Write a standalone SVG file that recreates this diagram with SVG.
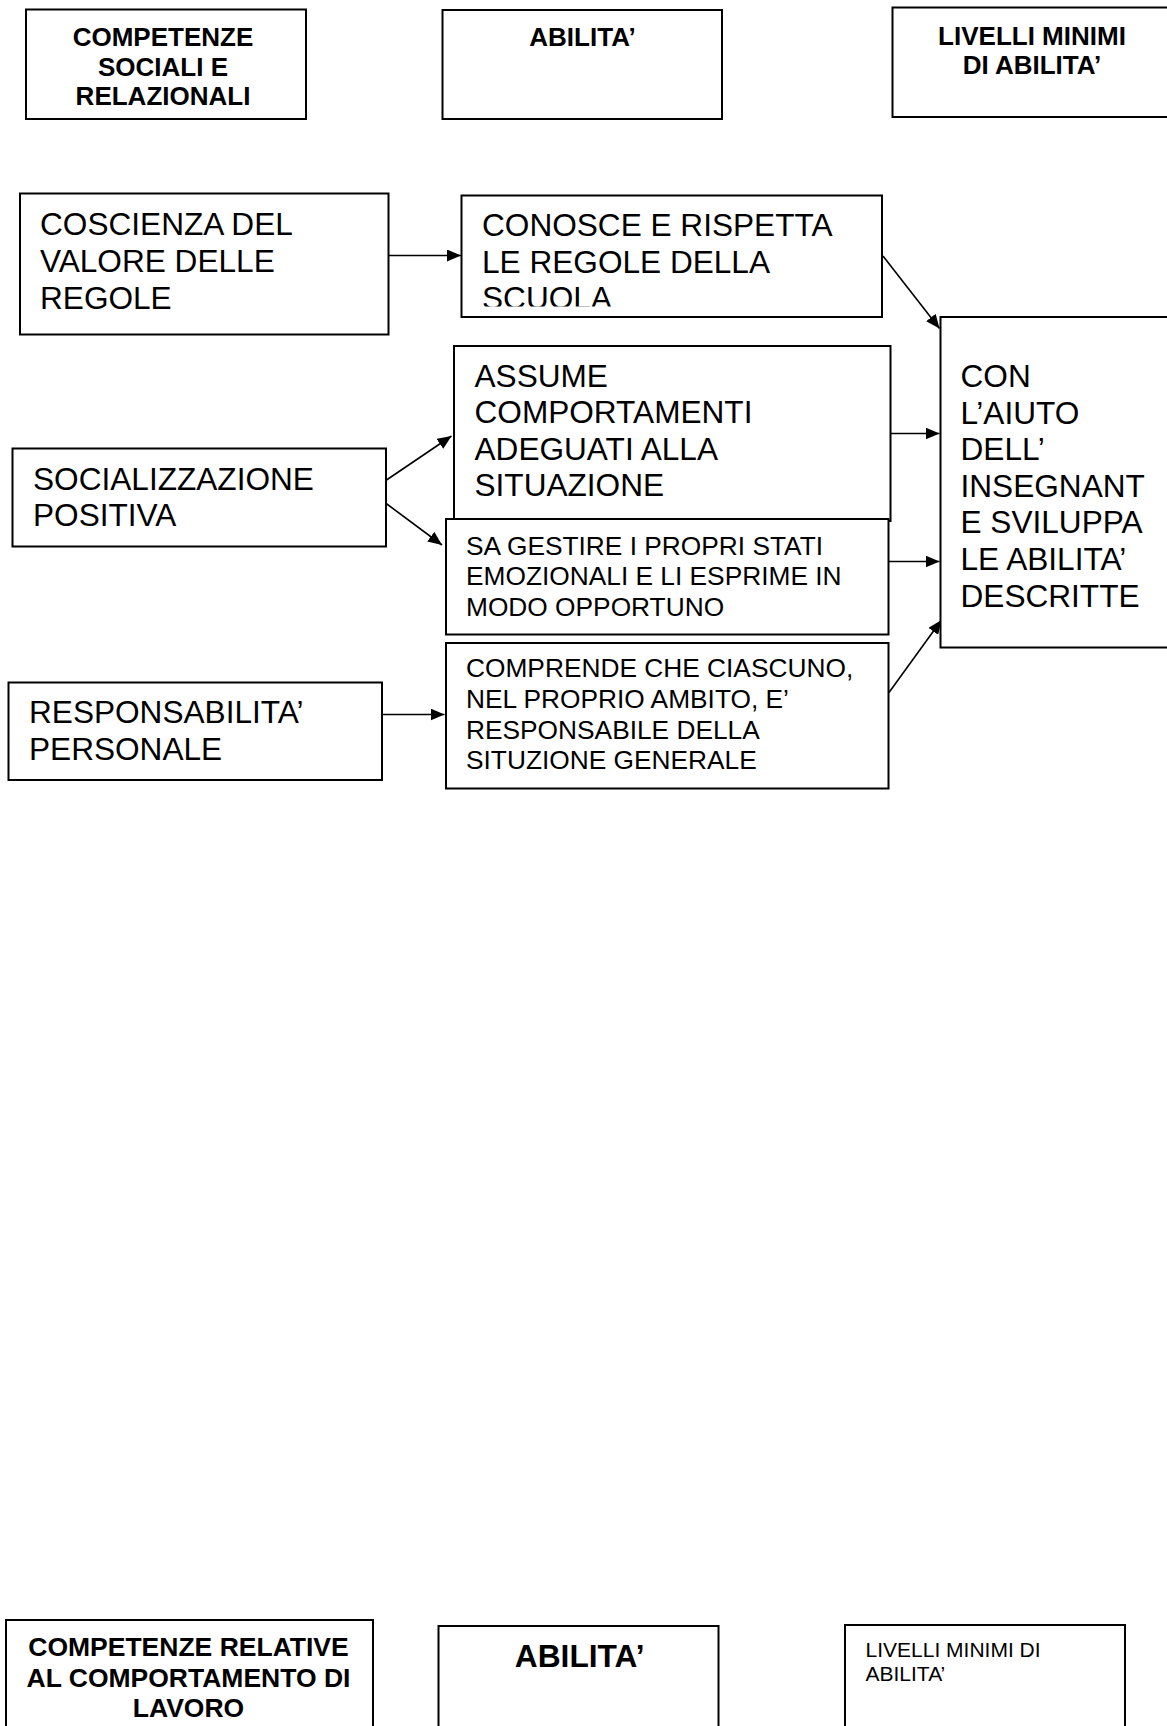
<svg xmlns="http://www.w3.org/2000/svg" width="1167" height="1726" viewBox="0 0 1167 1726">
<style>
.box{fill:#fff;stroke:#000;stroke-width:2}
.hd{font-family:"Liberation Sans",Arial,sans-serif;font-weight:bold;font-size:26px;fill:#000;text-anchor:middle}
.big{font-family:"Liberation Sans",Arial,sans-serif;font-size:31.6px;fill:#000}
.mid{font-family:"Liberation Sans",Arial,sans-serif;font-size:26.3px;fill:#000}
.sm{font-family:"Liberation Sans",Arial,sans-serif;font-size:21px;fill:#000}
.conn{stroke:#000;stroke-width:1.6;fill:none;marker-end:url(#arr)}
</style>
<defs>
<marker id="arr" viewBox="0 0 14 12" refX="14" refY="6" markerWidth="14" markerHeight="12" markerUnits="userSpaceOnUse" orient="auto">
<path d="M0,0 L14,6 L0,12 Z" fill="#000"/>
</marker>
<clipPath id="clipScuola"><rect x="462" y="196" width="419" height="110.5"/></clipPath>
</defs>
<rect width="1167" height="1726" fill="#fff"/>

<g id="hdr-competenze">
<rect class="box" x="26" y="9.5" width="280" height="109.5"/>
<text class="hd" x="163" y="46">COMPETENZE</text>
<text class="hd" x="163" y="75.5">SOCIALI E</text>
<text class="hd" x="163" y="105">RELAZIONALI</text>
</g>
<g id="hdr-abilita">
<rect class="box" x="442.5" y="10" width="279.5" height="109"/>
<text class="hd" x="582.5" y="45.5">ABILITA’</text>
</g>
<g id="hdr-livelli">
<rect class="box" x="892.5" y="7.5" width="290" height="109.5"/>
<text class="hd" x="1032" y="44.5">LIVELLI MINIMI</text>
<text class="hd" x="1032" y="74">DI ABILITA’</text>
</g>

<g id="connectors">
<line class="conn" x1="388.5" y1="255.5" x2="461" y2="255.5"/>
<line class="conn" x1="883" y1="256" x2="939.5" y2="328.5"/>
<line class="conn" x1="890.5" y1="433.5" x2="939.5" y2="433.5"/>
<line class="conn" x1="386.5" y1="480" x2="451.5" y2="436"/>
<line class="conn" x1="383.5" y1="501.5" x2="442" y2="545"/>
<line class="conn" x1="889" y1="561.5" x2="939.5" y2="561.5"/>
<line class="conn" x1="382" y1="714.5" x2="444.5" y2="714.5"/>
<line class="conn" x1="889" y1="692.5" x2="941.5" y2="620"/>
</g>

<g id="n-coscienza">
<rect class="box" x="20" y="193.5" width="368.5" height="141"/>
<text class="big" x="40" y="235">COSCIENZA DEL</text>
<text class="big" x="40" y="271.5">VALORE DELLE</text>
<text class="big" x="40" y="308.5">REGOLE</text>
</g>
<g id="n-conosce">
<rect class="box" x="461.5" y="195.5" width="420.5" height="121.5"/>
<text class="big" x="482" y="236">CONOSCE E RISPETTA</text>
<text class="big" x="482" y="272.5">LE REGOLE DELLA</text>
<text class="big" x="482" y="309" clip-path="url(#clipScuola)">SCUOLA</text>
</g>
<g id="n-conaiuto">
<rect class="box" x="940.5" y="317" width="240" height="330.5"/>
<text class="big" x="960.5" y="387">CON</text>
<text class="big" x="960.5" y="423.5">L’AIUTO</text>
<text class="big" x="960.5" y="460">DELL’</text>
<text class="big" x="960.5" y="496.5">INSEGNANT</text>
<text class="big" x="960.5" y="533.3">E SVILUPPA</text>
<text class="big" x="960.5" y="570">LE ABILITA’</text>
<text class="big" x="960.5" y="607">DESCRITTE</text>
</g>
<g id="n-assume">
<rect class="box" x="454" y="346" width="436.5" height="175"/>
<text class="big" x="474.5" y="387">ASSUME</text>
<text class="big" x="474.5" y="423">COMPORTAMENTI</text>
<text class="big" x="474.5" y="459.7">ADEGUATI ALLA</text>
<text class="big" x="474.5" y="496.3">SITUAZIONE</text>
</g>
<g id="n-socializzazione">
<rect class="box" x="12.5" y="448.5" width="373.5" height="98"/>
<text class="big" x="33" y="489.5">SOCIALIZZAZIONE</text>
<text class="big" x="33" y="526.3">POSITIVA</text>
</g>
<g id="n-sagestire">
<rect class="box" x="446" y="519" width="442.5" height="115.5"/>
<text class="mid" x="466" y="555">SA GESTIRE I PROPRI STATI</text>
<text class="mid" x="466" y="585.3">EMOZIONALI E LI ESPRIME IN</text>
<text class="mid" x="466" y="615.5">MODO OPPORTUNO</text>
</g>
<g id="n-responsabilita">
<rect class="box" x="8.5" y="682.5" width="373.5" height="97.5"/>
<text class="big" x="29" y="722.5">RESPONSABILITA’</text>
<text class="big" x="29" y="759.5">PERSONALE</text>
</g>
<g id="n-comprende">
<rect class="box" x="446" y="643" width="442.5" height="145.5"/>
<text class="mid" x="466" y="677">COMPRENDE CHE CIASCUNO,</text>
<text class="mid" x="466" y="707.5">NEL PROPRIO AMBITO, E’</text>
<text class="mid" x="466" y="738.5">RESPONSABILE DELLA</text>
<text class="mid" x="466" y="769">SITUZIONE GENERALE</text>
</g>

<g id="hdr2-competenze">
<rect class="box" x="6" y="1620" width="367" height="130"/>
<text class="hd" x="188.5" y="1656" style="font-size:26.5px">COMPETENZE RELATIVE</text>
<text class="hd" x="188.5" y="1686.5" style="font-size:26.5px">AL COMPORTAMENTO DI</text>
<text class="hd" x="188.5" y="1717" style="font-size:26.5px">LAVORO</text>
</g>
<g id="hdr2-abilita">
<rect class="box" x="438.5" y="1626" width="280" height="130"/>
<text class="hd" x="579.7" y="1666.7" style="font-size:31.7px">ABILITA’</text>
</g>
<g id="hdr2-livelli">
<rect class="box" x="845" y="1625" width="280" height="130"/>
<text class="sm" x="865.5" y="1656.5">LIVELLI MINIMI DI</text>
<text class="sm" x="865.5" y="1680.5">ABILITA’</text>
</g>
</svg>
